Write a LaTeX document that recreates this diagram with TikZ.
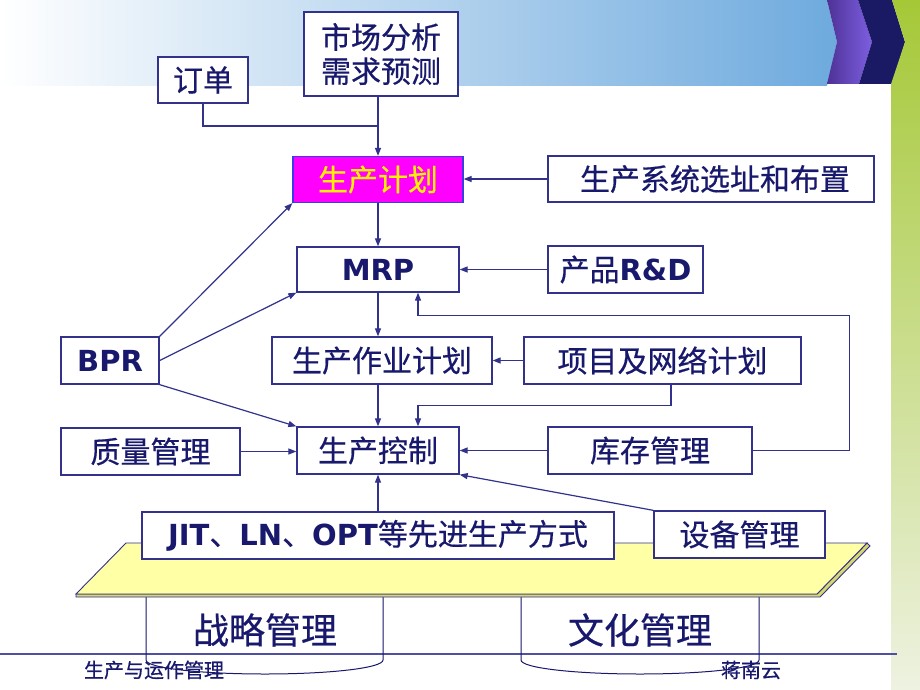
\documentclass[tikz,border=0pt]{standalone}
\usepackage{fontspec}
\setmainfont{Noto Sans CJK SC}[FakeBold=0.5]
\newfontfamily\lat{DejaVu Sans}
\usetikzlibrary{arrows.meta,calc}
\definecolor{ink}{RGB}{24,24,108}
\definecolor{edge}{RGB}{50,50,140}
\definecolor{magbox}{RGB}{255,0,255}
\definecolor{magedge}{RGB}{60,60,230}
\definecolor{plank}{RGB}{255,255,165}
\definecolor{plankside}{RGB}{215,215,110}
\definecolor{hdrmid}{RGB}{192,204,240}
\definecolor{hdrright}{RGB}{110,170,222}
\definecolor{purpL}{RGB}{78,50,150}
\definecolor{purpR}{RGB}{125,95,225}
\definecolor{navyC}{RGB}{25,25,100}
\definecolor{greenT}{RGB}{165,200,55}
\definecolor{greenB}{RGB}{238,242,225}
\newcommand\zhsize{\fontsize{30}{34}\selectfont}
\newcommand\bigsize{\fontsize{36}{40}\selectfont}
\newcommand\footsize{\fontsize{20}{22}\selectfont}
\newcommand\la[1]{{\lat\bfseries\fontsize{29}{34}\selectfont #1}}
\begin{document}
\begin{tikzpicture}[x=1pt,y=-1pt,
  box/.style={draw=edge, line width=1.3pt, fill=white, text=ink, inner sep=0pt, font=\zhsize},
  arr/.style={draw=edge, line width=1.2pt, -{Triangle[length=8pt,width=6pt]}},
  ln/.style={draw=edge, line width=1.2pt},
  cyl/.style={draw=ink, line width=1pt}]
\useasboundingbox (0,0) rectangle (920,690);
\fill[white] (0,0) rectangle (920,690);
% header
\shade[left color=white, middle color=hdrmid, right color=hdrright]
  (0,0) -- (827,0) -- (837,42) -- (827,86) -- (0,86) -- cycle;
\shade[left color=purpL, right color=purpR]
  (827,0) -- (858,0) -- (872,42) -- (859,84) -- (827,84) -- (837,42) -- cycle;
\fill[navyC] (858,0) -- (892,0) -- (905,42) -- (892,84) -- (859,84) -- (872,42) -- cycle;
\shade[top color=greenT, bottom color=greenB]
  (892,0) -- (920,0) -- (920,690) -- (891,690) -- (891,84) -- (905,42) -- cycle;

% footer
\draw[draw={rgb,255:red,80;green,80;blue,160}, line width=1.2pt] (0,654) -- (897,654);

% cylinders under plank
\draw[cyl] (146,597) -- (146,660) .. controls (146,668) and (200,674) .. (265,674)
  .. controls (330,674) and (383,668) .. (383,660) -- (383,597);
\draw[cyl] (521,597) -- (521,660) .. controls (521,668) and (575,674) .. (640,674)
  .. controls (705,674) and (759,668) .. (759,660) -- (759,597);
\node[text=ink, font=\bigsize] (zl2) at (265,630) {战略管理};
\node[text=ink, font=\bigsize] (wh) at (640,630) {文化管理};
\node[text=ink, font=\footsize] (ft1) at (154,670) {生产与运作管理};
\node[text=ink, font=\footsize] (ft2) at (751,670) {蒋南云};

% plank
\filldraw[fill=plankside, draw=edge, line width=0.9pt]
  (76,594) -- (817,594) -- (867,543) -- (870,546) -- (820,597) -- (76,597) -- cycle;
\filldraw[fill=plank, draw=edge, line width=0.9pt]
  (126,543) -- (867,543) -- (817,594) -- (76,594) -- cycle;

% boxes
\node[box, minimum width=90pt, minimum height=46pt] (dd) at (203,80) {订单};
\node[box, minimum width=154pt, minimum height=84pt, align=center] (sc) at (381,54) {市场分析\\需求预测};
\node[box, fill=magbox, draw=magedge, text=yellow, minimum width=170pt, minimum height=46pt] (scjh) at (378,179.5) {生产计划};
\node[box, minimum width=326pt, minimum height=46pt] (xz) at (711,179) {\hspace{8pt}生产系统选址和布置};
\node[box, minimum width=162pt, minimum height=45pt] (mrp) at (378,269.5) {\la{MRP}};
\node[box, minimum width=155pt, minimum height=47pt] (rd) at (625.5,269.5) {产品\la{R\&D}};
\node[box, minimum width=98pt, minimum height=47pt] (bpr) at (110,360.5) {\la{BPR}};
\node[box, minimum width=220pt, minimum height=47pt] (zyjh) at (382,360.5) {生产作业计划};
\node[box, minimum width=277pt, minimum height=47pt] (xm) at (662.5,360.5) {项目及网络计划};
\node[box, minimum width=179pt, minimum height=47pt] (zl) at (150.5,451.5) {质量管理};
\node[box, minimum width=162pt, minimum height=47pt] (kz) at (378,450.5) {生产控制};
\node[box, minimum width=204pt, minimum height=47pt] (kc) at (650,450.5) {库存管理};
\node[box, minimum width=472pt, minimum height=47pt] (jit) at (378,535.5) {\la{JIT}、\la{LN}、\la{OPT}等先进生产方式};
\node[box, minimum width=171pt, minimum height=47pt] (sb) at (739.5,534.5) {设备管理};

% connectors
\coordinate (j1) at (scjh.north |- 0,126);
\draw[ln] (dd.south) |- (j1);
\draw[arr] (sc.south -| scjh.north) -- (scjh.north);
\draw[arr] (scjh.south) -- (scjh.south |- mrp.north);
\draw[arr] (mrp.south) -- (mrp.south |- zyjh.north);
\draw[arr] (mrp.south |- zyjh.south) -- (kz.north);
\draw[arr] (xz.west) -- (scjh.east |- xz.west);
\draw[arr] (rd.west) -- (mrp.east |- rd.west);
\draw[arr] (xm.west) -- (zyjh.east |- xm.west);
\draw[arr] ($(xm.south)+(8.5,0)$) |- ($(kz.north)+(40,-21)$) -- ($(kz.north)+(40,0)$);
\draw[arr] (kc.east) -- ++(97,0) |- ($(mrp.south)+(40,23)$) -- ($(mrp.south)+(40,0)$);
\draw[arr] (kc.west) -- (kz.east |- kc.west);
\draw[arr] (zl.east) -- (kz.west |- zl.east);
\draw[arr] (bpr.north east) -- (scjh.south west);
\draw[arr] (bpr.east) -- (mrp.south west);
\draw[arr] (bpr.south east) -- (kz.north west);
\draw[arr] (jit.north -| kz.south) -- (kz.south);
\draw[arr] (sb.north west) -- (kz.south east);
\end{tikzpicture}
\end{document}
